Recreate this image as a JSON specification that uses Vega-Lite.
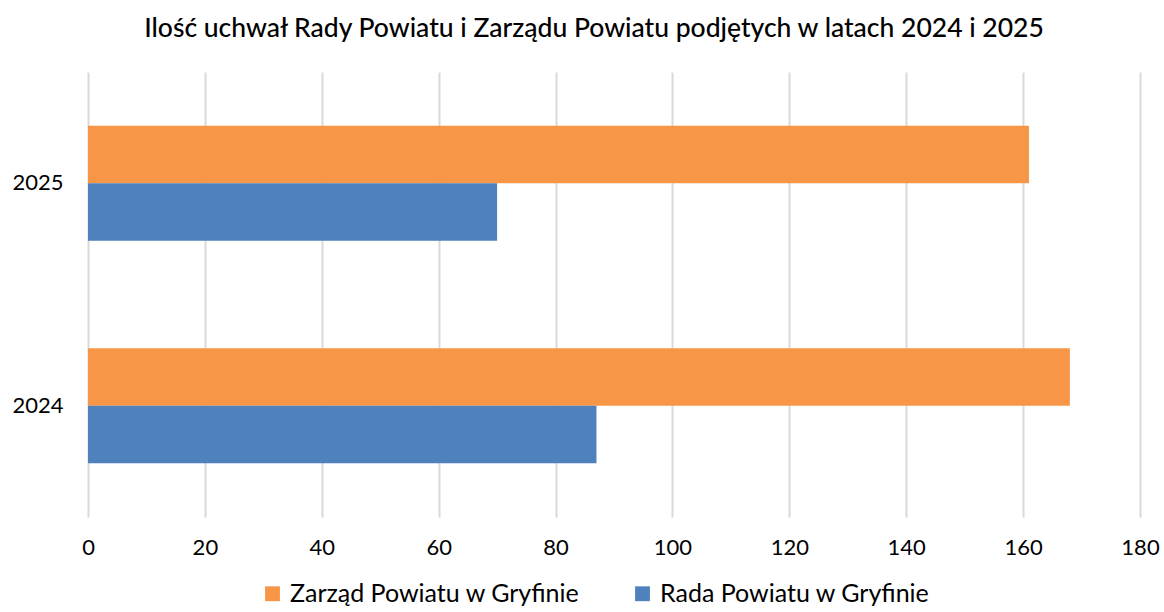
{
  "$schema": "https://vega.github.io/schema/vega-lite/v6.json",
  "width": 1052,
  "height": 445,
  "autosize": {"type": "none"},
  "padding": {"left": 88, "top": 72, "right": 24, "bottom": 95},
  "background": "white",
  "config": {
    "font": "Lato",
    "view": {"stroke": null}
  },
  "title": {
    "text": "Ilość uchwał Rady Powiatu i Zarządu Powiatu podjętych w latach 2024 i 2025",
    "fontSize": 26.5,
    "fontWeight": 500,
    "color": "#000000",
    "anchor": "middle",
    "offset": 30,
    "dx": -20,
    "font": "Lato"
  },
  "data": {
    "values": [
      {"rok": "2025", "seria": "Zarząd Powiatu w Gryfinie", "liczba": 161},
      {"rok": "2025", "seria": "Rada Powiatu w Gryfinie", "liczba": 70},
      {"rok": "2024", "seria": "Zarząd Powiatu w Gryfinie", "liczba": 168},
      {"rok": "2024", "seria": "Rada Powiatu w Gryfinie", "liczba": 87}
    ]
  },
  "mark": {"type": "bar"},
  "encoding": {
    "y": {
      "field": "rok",
      "type": "nominal",
      "sort": ["2025", "2024"],
      "scale": {"paddingInner": 0.483, "paddingOuter": 0.2415},
      "axis": {
        "title": null,
        "domain": false,
        "ticks": false,
        "labelFontSize": 22,
        "labelColor": "#000000",
        "labelPadding": 25,
        "labelFont": "Lato"
      }
    },
    "yOffset": {
      "field": "seria",
      "type": "nominal",
      "sort": ["Zarząd Powiatu w Gryfinie", "Rada Powiatu w Gryfinie"],
      "scale": {"paddingInner": 0, "paddingOuter": 0}
    },
    "x": {
      "field": "liczba",
      "type": "quantitative",
      "scale": {"domain": [0, 180], "nice": false},
      "axis": {
        "title": null,
        "domain": false,
        "ticks": false,
        "values": [0, 20, 40, 60, 80, 100, 120, 140, 160, 180],
        "grid": true,
        "gridColor": "#d9d9d9",
        "gridWidth": 2,
        "labelFontSize": 22,
        "labelColor": "#000000",
        "labelPadding": 20,
        "labelFont": "Lato",
        "labelFlush": false
      }
    },
    "color": {
      "field": "seria",
      "type": "nominal",
      "sort": ["Zarząd Powiatu w Gryfinie", "Rada Powiatu w Gryfinie"],
      "scale": {
        "domain": ["Zarząd Powiatu w Gryfinie", "Rada Powiatu w Gryfinie"],
        "range": ["#F79646", "#4F81BD"]
      },
      "legend": {
        "title": null,
        "orient": "none",
        "legendX": 172,
        "legendY": 509,
        "direction": "horizontal",
        "symbolType": "square",
        "symbolSize": 220,
        "symbolStrokeWidth": 0,
        "labelFontSize": 25,
        "labelColor": "#000000",
        "labelFont": "Lato",
        "labelLimit": 0,
        "labelOffset": 5,
        "columnPadding": 50
      }
    }
  }
}
